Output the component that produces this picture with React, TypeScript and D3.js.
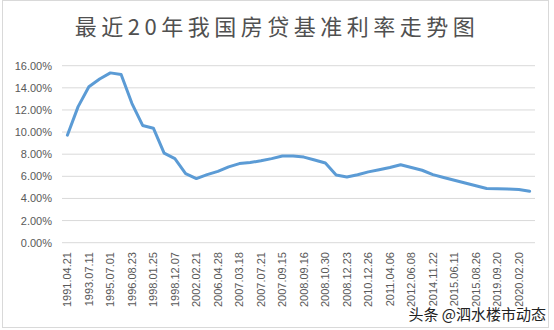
import React from "react";
import * as d3 from "d3";

const dates = [
  "1991.04.21", "1993.05.15", "1993.07.11", "1995.01.01", "1995.07.01", "1996.05.01",
  "1996.08.23", "1997.10.23", "1998.01.25", "1998.07.01", "1998.12.07", "1999.06.10",
  "2002.02.21", "2004.10.29", "2006.04.28", "2006.08.19", "2007.03.18", "2007.05.19",
  "2007.07.21", "2007.08.22", "2007.09.15", "2007.12.21", "2008.09.16", "2008.10.09",
  "2008.10.30", "2008.11.27", "2008.12.23", "2010.10.20", "2010.12.26", "2011.02.09",
  "2011.04.06", "2011.07.07", "2012.06.08", "2012.07.06", "2014.11.22", "2015.03.01",
  "2015.06.11", "2015.06.28", "2015.08.26", "2015.10.24", "2019.09.20", "2019.12.20",
  "2020.02.20", "2020.04.20",
];
const rates = [
  9.72, 12.3, 14.1, 14.8, 15.35, 15.2,
  12.6, 10.6, 10.35, 8.1, 7.6, 6.25,
  5.8, 6.15, 6.45, 6.85, 7.15, 7.25,
  7.4, 7.6, 7.83, 7.83, 7.74, 7.47,
  7.2, 6.12, 5.94, 6.14, 6.4, 6.6,
  6.8, 7.05, 6.8, 6.55, 6.15, 5.9,
  5.65, 5.4, 5.15, 4.9, 4.88, 4.85,
  4.8, 4.65,
];
const yTicks = [0, 2, 4, 6, 8, 10, 12, 14, 16];
const title = "最近20年我国房贷基准利率走势图";
const watermark = "头条 @泗水楼市动态";

export default function App() {
  const W = 554, H = 330;
  const left = 62, right = 535, top = 65.7, bottom = 242.7;
  const x = d3.scaleBand<number>().domain(d3.range(dates.length)).range([left, right]);
  const y = d3.scaleLinear().domain([0, 16]).range([bottom, top]);
  const cx = (i: number) => (x(i) as number) + x.bandwidth() / 2;
  const line = d3.line<number>().x((_, i) => cx(i)).y((d) => y(d));
  const font = "'Liberation Sans', Arial, sans-serif";

  return (
    <svg width={W} height={H} style={{ position: "absolute", left: 0, top: 0 }}>
      <rect x={0} y={0} width={W} height={H} fill="#ffffff" />
      <rect x={2.5} y={0.5} width={546} height={327} fill="none" stroke="#d9d9d9" strokeWidth={1} />
      <text
        x={277}
        y={35}
        textAnchor="middle"
        fontFamily="'Noto Sans CJK SC', sans-serif"
        fontSize={22}
        letterSpacing={4.5}
        fill="#505050"
      >
        {title}
      </text>
      {yTicks.map((t) => (
        <g key={t}>
          <line x1={left} x2={right} y1={y(t)} y2={y(t)} stroke="#d9d9d9" strokeWidth={1} />
          <text x={52} y={y(t) + 4} textAnchor="end" fontFamily={font} fontSize={11} fill="#595959">
            {t.toFixed(2) + "%"}
          </text>
        </g>
      ))}
      {dates.map((d, i) =>
        i % 2 === 0 ? (
          <text
            key={d}
            transform={`translate(${cx(i) + 4},${252}) rotate(-90)`}
            textAnchor="end"
            fontFamily={font}
            fontSize={11}
            fill="#595959"
          >
            {d}
          </text>
        ) : null
      )}
      <path d={line(rates) || ""} fill="none" stroke="#5b9bd5" strokeWidth={3} strokeLinejoin="round" strokeLinecap="round" />
      <text
        x={546}
        y={320}
        textAnchor="end"
        fontFamily="'Noto Sans CJK SC', sans-serif"
        fontSize={15}
        fill="#222222"
        stroke="#ffffff"
        strokeWidth={3}
        paintOrder="stroke"
      >
        {watermark}
      </text>
    </svg>
  );
}
